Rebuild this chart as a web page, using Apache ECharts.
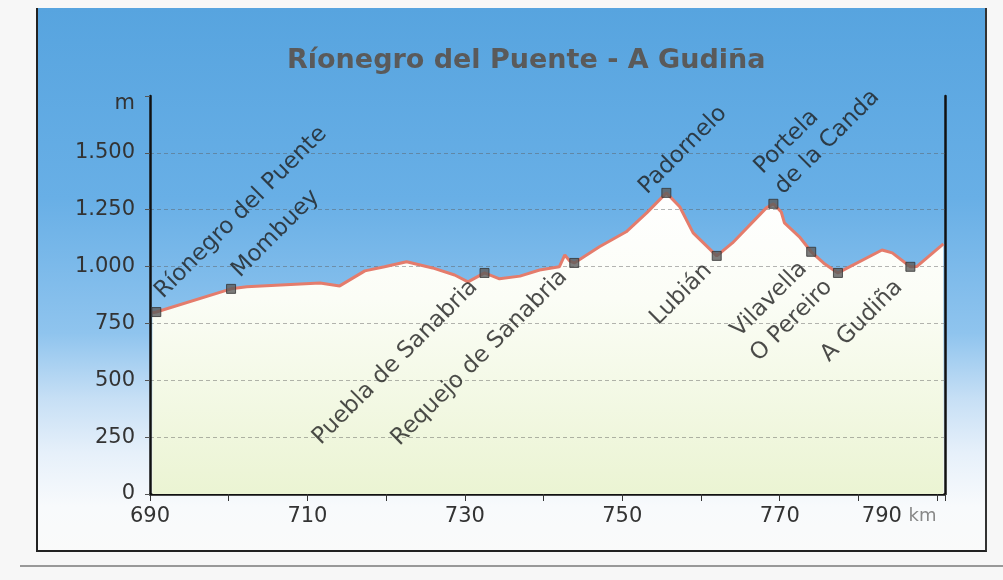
<!DOCTYPE html>
<html>
<head>
<meta charset="utf-8">
<title>Ríonegro del Puente - A Gudiña</title>
<script src="https://cdn.jsdelivr.net/npm/echarts@6/dist/echarts.min.js"></script>
<style>
  html, body { margin: 0; padding: 0; background: #f7f7f7; overflow: hidden; }
  .page { position: relative; width: 1003px; height: 580px; }
  .frame {
    position: absolute; left: 36px; top: 8px; width: 947px; height: 542px;
    border-left: 2.5px solid #222; border-right: 2px solid #333; border-bottom: 2.5px solid #222;
    background: linear-gradient(to bottom, #57a4df 0%, #68afe6 35%, #8fc4ee 60%, #c6dff5 72%, #e6f0fa 82%, #f8fafc 92%, #fafafa 100%);
  }
  .rule { position: absolute; left: 20px; top: 565px; width: 983px; height: 1.5px; background: #999; }
  #chart { position: absolute; left: 0; top: 0; width: 1003px; height: 580px; }
</style>
</head>
<body>
<div class="page">
  <div class="frame"></div>
  <div class="rule"></div>
  <div id="chart"></div>
</div>
<script>
// elevation profile (km along the route, metres)
const profileKm = [690.3, 690.8, 700.3, 702.3, 706, 711.6, 714.1, 717.3, 719.8, 722.6, 725.9, 728.7, 730.4, 732.5,
  734.4, 737, 739.5, 742, 742.7, 743.3, 743.9, 747.1, 750.5, 753.1, 755.6, 757.3, 759, 762,
  764, 768.3, 769.2, 770.2, 770.6, 772.5, 774, 775.6, 777.4, 783, 784.3, 786.6, 787.4, 790.8];
const profileElev = [797, 800, 902, 911, 918, 928, 915, 981, 999, 1021, 994, 963, 933, 972,
  946, 958, 985, 999, 1051, 1025, 1016, 1087, 1153, 1236, 1324, 1263, 1148, 1047,
  1104, 1258, 1276, 1240, 1192, 1131, 1065, 1015, 972, 1073, 1060, 999, 1000, 1100];

// towns on the route
const townNames = ['Ríonegro del Puente', 'Mombuey', 'Puebla de Sanabria', 'Requejo de Sanabria', 'Padornelo',
  'Lubián', 'Portela\nde la Canda', 'Vilavella', 'O Pereiro', 'A Gudiña'];
const townKm = [690.8, 700.3, 732.5, 743.9, 755.6, 762, 769.2, 774, 777.4, 786.6];
const townElev = [800, 902, 972, 1016, 1324, 1047, 1276, 1065, 972, 999];

const xLabels = [690, 710, 730, 750, 770, 790];

const chart = echarts.init(document.getElementById('chart'));

// which side of the marker each label sits on, and its offset (in the rotated frame)
const up = { align: 'left', verticalAlign: 'bottom' };
const down = { align: 'right', verticalAlign: 'middle' };
const labelPlacement = [
  Object.assign({ offset: [14, 1] }, up),
  Object.assign({ offset: [14, 4] }, up),
  Object.assign({ offset: [-15, 0] }, down),
  Object.assign({ offset: [-15, 0] }, down),
  Object.assign({ offset: [-15, -7] }, up),
  Object.assign({ offset: [-14, 2] }, down),
  Object.assign({ offset: [13, 9], lineHeight: 29 }, up),
  Object.assign({ offset: [-15, 4] }, down),
  Object.assign({ offset: [-14, 1] }, down),
  Object.assign({ offset: [-20, 4] }, down)
];

const profile = profileKm.map((k, i) => [k, profileElev[i]]);
const towns = townNames.map((n, i) => ({
  name: n,
  value: [townKm[i], townElev[i]],
  label: labelPlacement[i]
}));

function fmtThousands(v) {
  return v >= 1000 ? Math.floor(v / 1000) + '.' + String(v % 1000).padStart(3, '0') : String(v);
}

const option = {
  animation: false,
  textStyle: { fontFamily: 'DejaVu Sans' },
  title: {
    text: 'Ríonegro del Puente - A Gudiña',
    left: 282,
    top: 42,
    textStyle: { fontSize: 27, fontWeight: 'bold', color: '#5a5a5a', fontFamily: 'DejaVu Sans' }
  },
  grid: { left: 150, right: 58, top: 96, bottom: 86 },
  xAxis: {
    type: 'value',
    min: 690,
    max: 791,
    interval: 10,
    axisLine: { show: true, onZero: false, lineStyle: { color: '#111', width: 2.5 } },
    axisTick: { show: true, length: 7, lineStyle: { color: '#333' } },
    splitLine: { show: false },
    axisLabel: {
      fontSize: 21,
      color: '#333',
      margin: 12,
      formatter: v => {
        if (v === 790) return '{a|790} {b|km}';
        return xLabels.indexOf(v) >= 0 ? String(v) : '';
      },
      rich: {
        a: { fontSize: 21, color: '#333' },
        b: { fontSize: 18, color: '#888', padding: [0, 76, 0, 0] }
      }
    }
  },
  yAxis: [
    {
      type: 'value',
      min: 0,
      max: 1750,
      interval: 250,
      z: 2,
      axisLine: { show: true, lineStyle: { color: '#111', width: 2.5 } },
      axisTick: { show: true, length: 5, lineStyle: { color: '#555' } },
      splitLine: {
        show: true,
        showMaxLine: false,
        showMinLine: false,
        lineStyle: { color: 'rgba(90,90,90,0.45)', type: [4, 3], width: 1 }
      },
      axisLabel: {
        fontSize: 21,
        color: '#333',
        margin: 15,
        formatter: v => v === 1750 ? '{m|m}' : fmtThousands(v),
        rich: { m: { fontSize: 21, color: '#333', padding: [16, 0, 0, 0] } }
      }
    },
    {
      type: 'value',
      position: 'right',
      min: 0,
      max: 1750,
      interval: 250,
      axisLine: { show: true, lineStyle: { color: '#111', width: 2.5 } },
      axisTick: { show: false },
      axisLabel: { show: false },
      splitLine: { show: false }
    }
  ],
  series: [
    {
      name: 'fill',
      type: 'line',
      z: 1,
      data: profile,
      showSymbol: false,
      lineStyle: { width: 0 },
      areaStyle: {
        opacity: 1,
        color: new echarts.graphic.LinearGradient(0, 0, 0, 1, [
          { offset: 0, color: '#ffffff' },
          { offset: 0.35, color: '#fbfdf6' },
          { offset: 1, color: '#ebf4d3' }
        ])
      }
    },
    {
      name: 'profile',
      type: 'line',
      z: 3,
      data: profile,
      showSymbol: false,
      lineStyle: { color: '#e47c6c', width: 3 }
    },
    {
      name: 'towns',
      type: 'scatter',
      z: 4,
      data: towns,
      symbol: 'rect',
      symbolSize: 9,
      itemStyle: { color: '#5b5b5b', borderColor: '#333', borderWidth: 1 },
      label: {
        show: true,
        position: 'inside',
        rotate: 45,
        fontSize: 23,
        color: '#1e1e1e',
        fontFamily: 'DejaVu Sans',
        formatter: p => p.name
      }
    }
  ]
};

chart.setOption(option);
</script>
</body>
</html>
